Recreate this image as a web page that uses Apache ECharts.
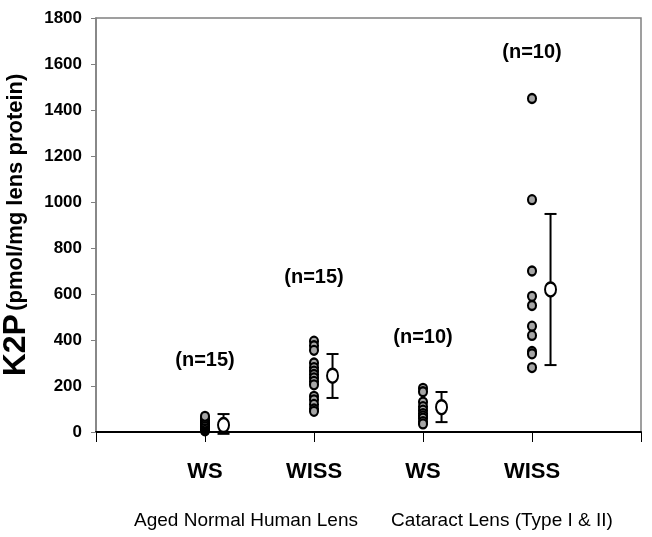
<!DOCTYPE html>
<html><head><meta charset="utf-8">
<script src="https://cdn.jsdelivr.net/npm/echarts@6/dist/echarts.min.js"></script>
<style>html,body{margin:0;padding:0;background:#fff;}#c{width:652px;height:537px;}</style>
</head><body><div id="c"></div>
<script>
const categories = ['WS', 'WISS', 'WS', 'WISS'];
const groupLabels = ['Aged Normal Human Lens', 'Cataract Lens (Type I & II)'];
const nLabels = ['(n=15)', '(n=15)', '(n=10)', '(n=10)'];
const nLabelY = [313, 670, 413, 1652];
const yTicks = [0, 200, 400, 600, 800, 1000, 1200, 1400, 1600, 1800];

const agedWS = [5, 8, 10, 12, 15, 18, 20, 22, 25, 30, 35, 40, 50, 60, 68];
const agedWISS = [395, 375, 355, 300, 280, 265, 250, 235, 220, 205, 155, 140, 120, 100, 90];
const catWS = [190, 175, 130, 110, 95, 80, 70, 60, 45, 35];
const catWISS = [1450, 1010, 700, 590, 550, 460, 420, 350, 340, 280];

const means = [30, 245, 108, 620];
const errLow = [-8, 148, 43, 291];
const errHigh = [78, 339, 174, 948];
const meanOffset = 0.17;

const FONT = '"Liberation Sans", Arial, sans-serif';

const groups = [agedWS, agedWISS, catWS, catWISS];
const dotData = [];
groups.forEach((g, i) => g.forEach(v => dotData.push([i + 1, v])));
const meanData = means.map((m, i) => [i + 1 + meanOffset, m]);
const errData = means.map((m, i) => [i + 1 + meanOffset, errLow[i], errHigh[i]]);
const nData = nLabels.map((t, i) => [i + 1, nLabelY[i], i]);

const chart = echarts.init(document.getElementById('c'), null, { renderer: 'canvas' });
chart.setOption({
  animation: false,
  backgroundColor: '#fff',
  grid: { left: 96, top: 18, right: 11, bottom: 105, show: true, borderColor: '#808080', borderWidth: 1.5,
    containLabel: false, outerBoundsMode: 'none' },
  xAxis: {
    type: 'value', min: 0, max: 5, interval: 1,
    axisLine: { show: true, lineStyle: { color: '#000', width: 2 } },
    axisTick: { show: true, inside: false, length: 10, lineStyle: { color: '#000', width: 1 } },
    splitLine: { show: false },
    axisLabel: {
      show: true, margin: 29,
      fontFamily: FONT, fontWeight: 'bold', fontSize: 22, color: '#000',
      formatter: v => (v >= 1 && v <= 4) ? categories[v - 1] : ''
    }
  },
  yAxis: {
    type: 'value', min: 0, max: 1800, interval: 200,
    axisLine: { show: true, lineStyle: { color: '#808080', width: 1.5 } },
    axisTick: { show: true, inside: false, length: 5, lineStyle: { color: '#808080' } },
    splitLine: { show: false },
    axisLabel: { fontFamily: FONT, fontWeight: 'bold', fontSize: 17, color: '#000', margin: 14,
      formatter: v => yTicks.includes(v) ? String(v) : '' },
    name: '{a|K2P} {b|(pmol/mg lens protein)}',
    nameLocation: 'middle', nameGap: 64, nameRotate: 90,
    nameTextStyle: {
      rich: {
        a: { fontFamily: FONT, fontWeight: 'bold', fontSize: 32, color: '#000' },
        b: { fontFamily: FONT, fontWeight: 'bold', fontSize: 22, color: '#000' }
      }
    }
  },
  graphic: [
    { type: 'text', x: 246, y: 521, style: { text: groupLabels[0], font: '19px ' + FONT, fill: '#000', align: 'center', verticalAlign: 'middle' } },
    { type: 'text', x: 502, y: 521, style: { text: groupLabels[1], font: '19px ' + FONT, fill: '#000', align: 'center', verticalAlign: 'middle' } }
  ],
  series: [
    {
      type: 'custom', z: 3,
      data: errData,
      renderItem: function (params, api) {
        const x = api.value(0);
        const lo = api.coord([x, api.value(1)]);
        const hi = api.coord([x, api.value(2)]);
        const cw = 6;
        const st = { stroke: '#000', lineWidth: 2 };
        return { type: 'group', children: [
          { type: 'line', shape: { x1: lo[0], y1: lo[1], x2: hi[0], y2: hi[1] }, style: st },
          { type: 'line', shape: { x1: lo[0] - cw, y1: lo[1], x2: lo[0] + cw, y2: lo[1] }, style: st },
          { type: 'line', shape: { x1: hi[0] - cw, y1: hi[1], x2: hi[0] + cw, y2: hi[1] }, style: st }
        ]};
      }
    },
    {
      type: 'scatter', z: 4, data: dotData,
      symbol: 'circle', symbolSize: [8, 9],
      itemStyle: { color: '#a6a6a6', borderColor: '#000', borderWidth: 2.2, opacity: 1 }
    },
    {
      type: 'scatter', z: 5, data: meanData,
      symbol: 'circle', symbolSize: [11, 14],
      itemStyle: { color: '#fff', borderColor: '#000', borderWidth: 2.2, opacity: 1 }
    },
    {
      type: 'custom', z: 6, data: nData,
      renderItem: function (params, api) {
        const p = api.coord([api.value(0), api.value(1)]);
        return { type: 'text', x: p[0], y: p[1],
          style: { text: nLabels[api.value(2)], fill: '#000', align: 'center', verticalAlign: 'middle',
            font: 'bold 20px ' + FONT } };
      }
    }
  ]
});
</script></body></html>
